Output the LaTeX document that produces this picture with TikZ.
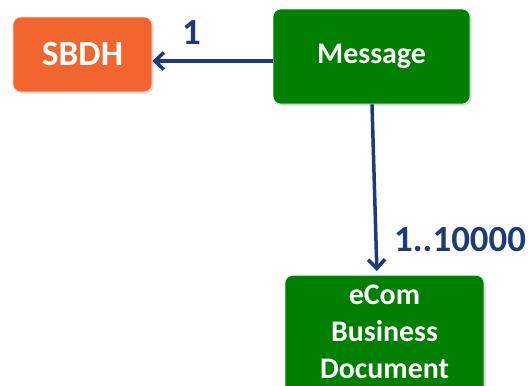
\documentclass[tikz,border=0pt]{standalone}
\usepackage{fontspec}
\setmainfont{Carlito}
\usetikzlibrary{arrows.meta,shadows}
\definecolor{sbdhorange}{HTML}{F2652E}
\definecolor{msggreen}{HTML}{007F00}
\definecolor{navy}{HTML}{1E3A78}
\tikzset{
  box/.style={rounded corners=8bp, draw=white!85!gray, line width=0.6bp, text=white,
    font=\bfseries\fontsize{30}{38}\selectfont, align=center, inner sep=0pt,
    drop shadow={shadow xshift=1.5bp, shadow yshift=-1.5bp, fill=gray!60, opacity=0.5}},
  conn/.style={draw=navy, line width=3.5bp, -{Straight Barb[length=9bp,width=17bp,line width=3.5bp]}},
  mult/.style={text=navy, font=\bfseries\fontsize{37}{40}\selectfont, inner sep=0pt}
}
\begin{document}
\begin{tikzpicture}[x=1bp,y=-1bp]
\useasboundingbox (0,0) rectangle (529,385);
\node[box, fill=sbdhorange, minimum width=139bp, minimum height=75bp, font=\bfseries\fontsize{35.5}{40}\selectfont] (SBDH) at (82.5,54.5) {SBDH};
\node[box, fill=msggreen, minimum width=197bp, minimum height=95bp] (Message) at (371.5,56.5) {Message};
\node[box, fill=msggreen, minimum width=199bp, minimum height=122bp, anchor=north] (ecom) at (384.5,275) {};
\node[text=white, font=\bfseries\fontsize{30}{37}\selectfont, align=center, anchor=north, inner sep=0pt] (ecomtext) at ([yshift=-10bp]ecom.north) {eCom\\Business\\Document};
\draw[conn] ([yshift=-4.5bp]Message.west) -- ([yshift=-4.5bp]Message.west -| SBDH.east);
\draw[conn, shorten >=4bp] ([xshift=0.5bp]Message.south) -- ([xshift=-7.5bp]ecom.north);
\node[mult] (m1) at (191.5,33) {1};
\node[mult, anchor=west] (m2) at (394,240) {1..10000};
\end{tikzpicture}
\end{document}
